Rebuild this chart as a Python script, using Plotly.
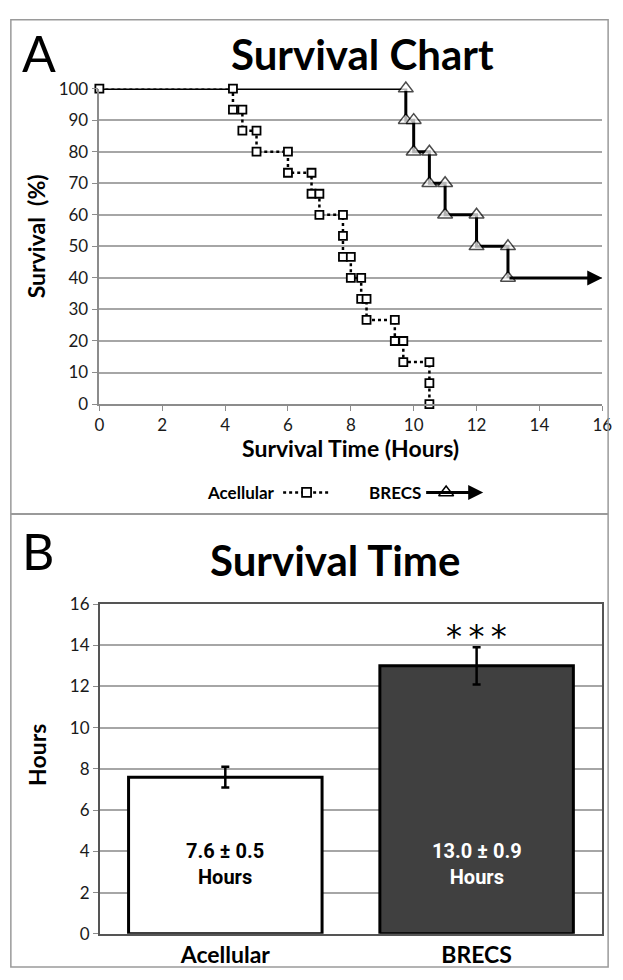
import plotly.graph_objects as go

# ---------------- data ----------------
acell_death_times = [4.25, 4.55, 5.0, 6.0, 6.75, 7.0, 7.75, 7.75, 8.0, 8.33, 8.5, 9.4, 9.67, 10.5, 10.5]
brecs_death_times = [9.75, 10.0, 10.5, 11.0, 12.0, 13.0]
brecs_n = 10
brecs_censor_end = 16

x_ticks_a = [0, 2, 4, 6, 8, 10, 12, 14, 16]
y_ticks_a = [0, 10, 20, 30, 40, 50, 60, 70, 80, 90, 100]

groups = ["Acellular", "BRECS"]
mean_hours = [7.6, 13.0]
sem_hours = [0.5, 0.9]
bar_colors = ["#ffffff", "#404040"]
label_colors = ["#000000", "#ffffff"]
signif = ["", "*\u2009*\u2009*"]

W, H = 623, 980
FONT = "Lato"


def km_path(times, n):
    xs, ys = [0.0], [100.0]
    surv = 100.0
    for k, t in enumerate(times, start=1):
        if t != xs[-1]:
            xs.append(t)
            ys.append(surv)
        surv = 100.0 * (n - k) / n
        xs.append(t)
        ys.append(surv)
    return xs, ys


ax_x, ax_y = km_path(acell_death_times, len(acell_death_times))
br_x, br_y = km_path(brecs_death_times, brecs_n)


def px(x):
    return x / W


def py(y):
    return 1 - y / H


fig = go.Figure()

fig.add_trace(go.Scatter(x=ax_x, y=ax_y, mode="lines", xaxis="x", yaxis="y",
                         line=dict(color="black", width=2.5, dash="dot"),
                         cliponaxis=False, showlegend=False, hoverinfo="skip"))
fig.add_trace(go.Scatter(x=br_x, y=br_y, mode="lines+markers", xaxis="x", yaxis="y",
                         line=dict(color="black", width=3),
                         marker=dict(symbol="triangle-up", size=[0] + [13] * (len(br_x) - 1),
                                     color="white", line=dict(color="black", width=1.5)),
                         cliponaxis=False, showlegend=False, hoverinfo="skip"))
fig.add_trace(go.Scatter(x=ax_x, y=ax_y, mode="markers", xaxis="x", yaxis="y",
                         marker=dict(symbol="square", size=8, color="white",
                                     line=dict(color="black", width=1.8)),
                         cliponaxis=False, showlegend=False, hoverinfo="skip"))

fig.add_trace(go.Bar(x=groups, y=mean_hours, xaxis="x2", yaxis="y2", width=0.77,
                     marker=dict(color=bar_colors, line=dict(color="black", width=3)),
                     error_y=dict(type="data", array=sem_hours, color="black",
                                  thickness=2.5, width=4),
                     showlegend=False, hoverinfo="skip"))

# legend glyphs on a dummy axis
fig.add_trace(go.Scatter(x=[285, 333], y=[0.5, 0.5], mode="lines", xaxis="x3", yaxis="y3",
                         line=dict(color="black", width=2.5, dash="dot"),
                         showlegend=False, hoverinfo="skip"))
fig.add_trace(go.Scatter(x=[309], y=[0.5], mode="markers", xaxis="x3", yaxis="y3",
                         marker=dict(symbol="square", size=9, color="white",
                                     line=dict(color="black", width=1.8)),
                         showlegend=False, hoverinfo="skip"))
fig.add_trace(go.Scatter(x=[452], y=[0.5], mode="markers", xaxis="x3", yaxis="y3",
                         marker=dict(symbol="triangle-up", size=13, color="white",
                                     line=dict(color="black", width=1.5)),
                         showlegend=False, hoverinfo="skip"))

grid = "#a6a6a6"
axline = "#8c8c8c"
tickfont = dict(family=FONT, size=17, color="#1a1a1a")

annotations = [
    dict(x=brecs_censor_end, y=br_y[-1], ax=br_x[-1], ay=br_y[-1], xref="x", yref="y",
         axref="x", ayref="y", showarrow=True, arrowhead=2, arrowsize=1, arrowwidth=3,
         arrowcolor="black", standoff=0, text=""),
    dict(x=490, y=0.5, ax=430, ay=0.5, xref="x3", yref="y3", axref="x3", ayref="y3",
         showarrow=True, arrowhead=2, arrowsize=1, arrowwidth=3, arrowcolor="black",
         standoff=0, text=""),
    dict(x=px(279), y=py(492), xref="paper", yref="paper", xanchor="right", yanchor="middle",
         text="<b>Acellular</b>", showarrow=False, font=dict(family=FONT, size=17, color="black")),
    dict(x=px(428), y=py(492), xref="paper", yref="paper", xanchor="right", yanchor="middle",
         text="<b>BRECS</b>", showarrow=False, font=dict(family=FONT, size=17, color="black")),
    dict(x=px(15), y=py(43), xref="paper", yref="paper", xanchor="left", yanchor="middle",
         text="A", showarrow=False, font=dict(family=FONT, size=50, color="black")),
    dict(x=px(366), y=py(44), xref="paper", yref="paper", xanchor="center", yanchor="middle",
         text="<b>Survival Chart</b>", showarrow=False, font=dict(family=FONT, size=42, color="black")),
    dict(x=px(15), y=py(552), xref="paper", yref="paper", xanchor="left", yanchor="middle",
         text="B", showarrow=False, font=dict(family=FONT, size=50, color="black")),
    dict(x=px(338), y=py(561), xref="paper", yref="paper", xanchor="center", yanchor="middle",
         text="<b>Survival Time</b>", showarrow=False, font=dict(family=FONT, size=42, color="black")),
    dict(x=px(32), y=py(230), xref="paper", yref="paper", xanchor="center", yanchor="middle",
         text="<b>Survival  (%)</b>", textangle=-90, showarrow=False,
         font=dict(family=FONT, size=23, color="black")),
    dict(x=px(354), y=py(447), xref="paper", yref="paper", xanchor="center", yanchor="middle",
         text="<b>Survival Time (Hours)</b>", showarrow=False,
         font=dict(family=FONT, size=23, color="black")),
    dict(x=px(33), y=py(760), xref="paper", yref="paper", xanchor="center", yanchor="middle",
         text="<b>Hours</b>", textangle=-90, showarrow=False,
         font=dict(family=FONT, size=23, color="black")),
]

for g, m, s, c, sig in zip(groups, mean_hours, sem_hours, label_colors, signif):
    annotations.append(dict(x=g, y=3.4, xref="x2", yref="y2", xanchor="center", yanchor="middle",
                            text=f"<b>{m:.1f} ± {s:.1f}<br>Hours</b>", showarrow=False,
                            font=dict(family="Roboto", size=20, color=c)))
    if sig:
        annotations.append(dict(x=g, y=m + s + 0.55, xref="x2", yref="y2", xanchor="center",
                                yanchor="middle", text=sig, showarrow=False,
                                font=dict(family="DejaVu Sans", size=32, color="black")))

shapes = [
    dict(type="rect", xref="paper", yref="paper", x0=px(6), x1=px(618), y0=py(977), y1=py(9),
         line=dict(color="#9a9a9a", width=1.5)),
    dict(type="line", xref="paper", yref="paper", x0=px(6), x1=px(618), y0=py(514), y1=py(514),
         line=dict(color="#9a9a9a", width=2)),
]

fig.update_layout(
    width=W, height=H, margin=dict(l=0, r=0, t=0, b=0),
    paper_bgcolor="white", plot_bgcolor="white",
    font=dict(family=FONT, color="black"),
    xaxis=dict(domain=[px(96.7), px(612)], range=[0, 16], tickvals=x_ticks_a,
               ticks="outside", ticklen=5, tickcolor=axline, showline=True, linecolor=axline,
               linewidth=1.5, showgrid=False, zeroline=False, tickfont=tickfont, anchor="y"),
    yaxis=dict(domain=[py(401.7), py(79.3)], range=[0, 100], tickvals=y_ticks_a,
               ticks="outside", ticklen=6, tickcolor=axline, showline=True, linecolor=axline,
               linewidth=1.5, showgrid=True, gridcolor=grid, gridwidth=1.5, zeroline=False,
               tickfont=tickfont, anchor="x"),
    xaxis2=dict(domain=[px(97), px(612)], range=[-0.5, 1.5], showline=True, linecolor="#555555",
                linewidth=1.5, mirror=True, ticks="", showgrid=False, zeroline=False,
                tickfont=dict(family=FONT, size=23, color="black"), anchor="y2",
                tickprefix="<b>", ticksuffix="</b>"),
    yaxis2=dict(domain=[py(943), py(606)], range=[0, 16], dtick=2, showline=True,
                linecolor="#555555", linewidth=1.5, mirror=True, ticks="outside", ticklen=5,
                tickcolor=axline, showgrid=True, gridcolor=grid, gridwidth=1.5, zeroline=False,
                tickfont=tickfont, anchor="x2"),
    xaxis3=dict(domain=[0, 1], range=[0, W], visible=False, fixedrange=True, anchor="y3"),
    yaxis3=dict(domain=[py(505), py(479)], range=[0, 1], visible=False, fixedrange=True, anchor="x3"),
    annotations=annotations,
    shapes=shapes,
)

fig.write_html("out.html")
